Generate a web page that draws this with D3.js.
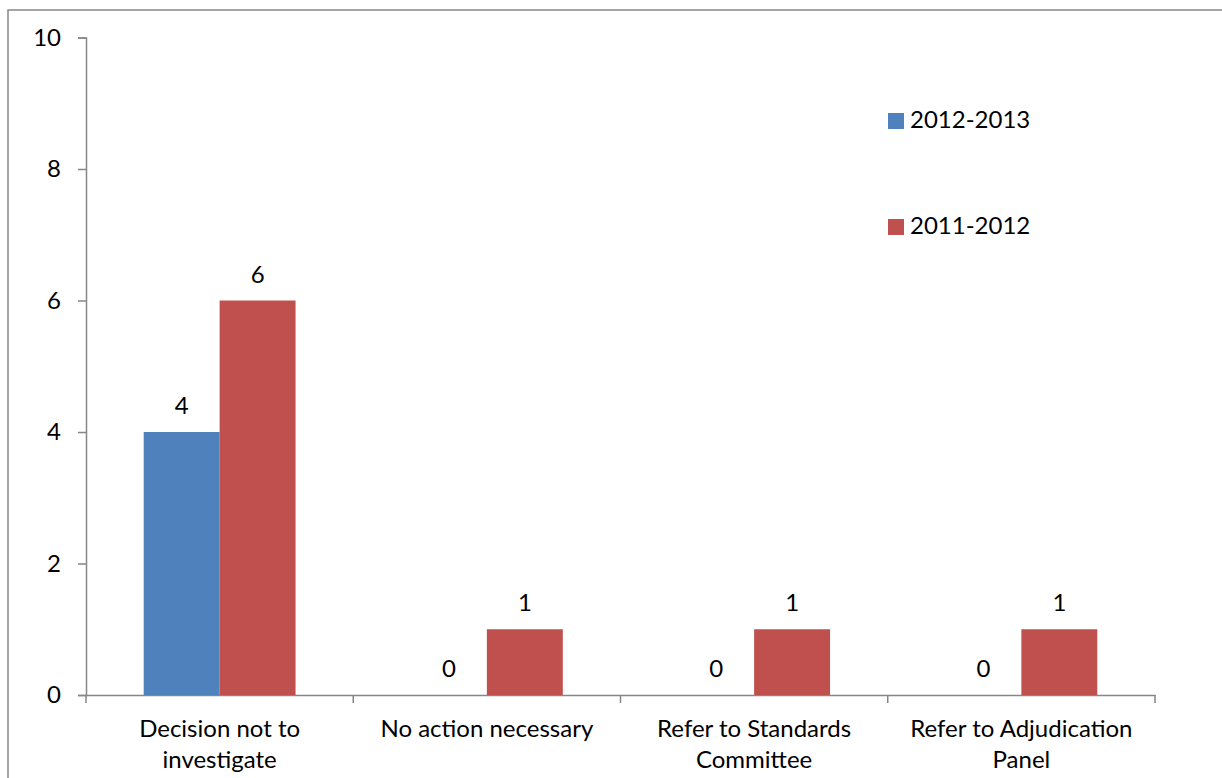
<!DOCTYPE html>
<html><head><meta charset="utf-8">
<script src="https://cdn.jsdelivr.net/npm/d3@7"></script>
<style>body{margin:0;background:#fff}svg text{font-family:Lato,"Open Sans",sans-serif;fill:#000}</style>
</head><body>
<svg id="c" width="1222" height="778"></svg>
<script>
const categories = [["Decision not to","investigate"],["No action necessary"],["Refer to Standards","Committee"],["Refer to Adjudication","Panel"]];
const seriesNames = ["2012-2013","2011-2012"];
const values2012_2013 = [4,0,0,0];
const values2011_2012 = [6,1,1,1];
const yTicks = [0,2,4,6,8,10];
const colors = ["#4F81BD","#C0504D"];
const series = [values2012_2013, values2011_2012];

const svg = d3.select("#c");
const fs = 24;
svg.append("rect").attr("x",8).attr("y",10).attr("width",1240).attr("height",800)
  .attr("fill","none").attr("stroke","#868686").attr("stroke-width",1.5);

const x0 = d3.scaleBand().domain(d3.range(categories.length)).range([86,1155]).paddingInner(0).paddingOuter(0);
const y = d3.scaleLinear().domain([0,10]).range([695,37.5]);
const x1 = d3.scaleBand().domain(d3.range(2)).range([0,x0.bandwidth()]).paddingInner(0).paddingOuter(0.76);

const g = svg.append("g");
// axes
const yAxis = d3.axisLeft(y).tickValues(yTicks).tickSize(8).tickPadding(17);
const ya = g.append("g").attr("transform","translate(86,0)").call(yAxis);
ya.selectAll("text").style("font-size",fs+"px");
const xa = g.append("g").attr("transform","translate(0,695)").call(d3.axisBottom(x0).tickValues([]).tickSizeOuter(0));
d3.range(categories.length+1).forEach(i=>{
  const xx = i<categories.length ? x0(i) : x0.range()[1];
  g.append("line").attr("x1",xx).attr("x2",xx).attr("y1",695).attr("y2",703).attr("stroke","#868686").attr("stroke-width",1.5);
});
svg.selectAll(".domain").attr("stroke","#868686").attr("stroke-width",1.5);
svg.selectAll(".tick line").attr("stroke","#868686").attr("stroke-width",1.5);

// bars
series.forEach((vals,s)=>{
  const bg = g.append("g");
  bg.selectAll("rect").data(vals).join("rect")
    .attr("x",(d,i)=>x0(i)+x1(s)).attr("width",x1.bandwidth())
    .attr("y",d=>y(d)).attr("height",d=>695-y(d)).attr("fill",colors[s]);
  bg.selectAll("text").data(vals).join("text")
    .attr("x",(d,i)=>x0(i)+x1(s)+x1.bandwidth()/2).attr("y",d=>y(d)-18)
    .attr("text-anchor","middle").style("font-size",fs+"px").text(d=>d);
});

// category labels
categories.forEach((lines,i)=>{
  const t = g.append("text").attr("text-anchor","middle").style("font-size",fs+"px");
  lines.forEach((l,k)=>t.append("tspan").attr("x",x0(i)+x0.bandwidth()/2).attr("y",737+k*31).text(l));
});

// legend
const legY = [121,227];
seriesNames.forEach((n,s)=>{
  svg.append("rect").attr("x",888).attr("y",legY[s]-8).attr("width",16).attr("height",16).attr("fill",colors[s]);
  svg.append("text").attr("x",910).attr("y",legY[s]+7).style("font-size",fs+"px").text(n);
});
</script>
</body></html>
